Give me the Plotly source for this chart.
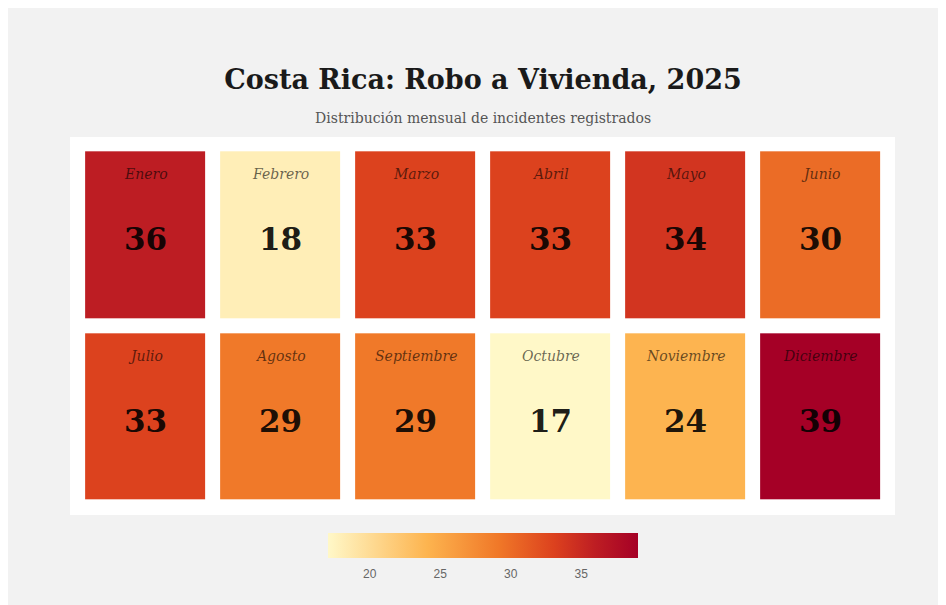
import plotly.graph_objects as go

months = ["Enero", "Febrero", "Marzo", "Abril", "Mayo", "Junio",
          "Julio", "Agosto", "Septiembre", "Octubre", "Noviembre", "Diciembre"]
incidents = [36, 18, 33, 33, 34, 30,
             33, 29, 29, 17, 24, 39]
n_cols = 6
colorbar_ticks = [20, 25, 30, 35]

serif = "Georgia, 'DejaVu Serif', serif"

# yellow -> orange -> red, tuned to the reference
scale = [
    [0.0, "#fff8c8"],
    [0.32, "#fdb44f"],
    [0.55, "#f07828"],
    [0.73, "#dc411e"],
    [0.86, "#be1e23"],
    [1.0, "#a50026"],
]

# 2 x 6 grid of months
z = [incidents[i:i + n_cols] for i in range(0, len(incidents), n_cols)]
labels = [months[i:i + n_cols] for i in range(0, len(months), n_cols)]

fig = go.Figure(go.Heatmap(
    z=z,
    x=list(range(n_cols)),
    y=list(range(len(z))),
    colorscale=scale,
    xgap=15,
    ygap=15,
    hoverinfo="skip",
    colorbar=dict(
        orientation="h",
        x=0.5, xanchor="center",
        y=-0.021, yanchor="top",
        len=0.4,
        thickness=25,
        outlinewidth=0,
        tickvals=colorbar_ticks,
        tickfont=dict(family="Liberation Sans, Arial, sans-serif", size=12, color="#666"),
        ticks="outside",
        ticklen=6,
        tickcolor="rgba(0,0,0,0)",
    ),
))

annotations = []
for r, row in enumerate(z):
    for c, val in enumerate(row):
        annotations.append(dict(
            x=c, y=r - 0.335, xref="x", yref="y",
            text=f"<i>{labels[r][c]}</i>", showarrow=False,
            font=dict(family=serif, size=14, color="rgba(0,0,0,0.6)"),
        ))
        annotations.append(dict(
            x=c, y=r + 0.02, xref="x", yref="y",
            text=f"<b>{val}</b>", showarrow=False,
            font=dict(family=serif, size=31, color="rgba(0,0,0,0.9)"),
        ))

annotations.append(dict(
    x=0.5, y=1.05, xref="paper", yref="paper", yanchor="middle",
    text="Distribución mensual de incidentes registrados", showarrow=False,
    font=dict(family=serif, size=14, color="#555"),
))

fig.update_layout(
    width=950,
    height=600,
    title=dict(
        text="<b>Costa Rica: Robo a Vivienda, 2025</b>",
        x=0.5, xanchor="center",
        y=1 - 72 / 600, yanchor="middle",
        font=dict(family=serif, size=27, color="#1a1a1a"),
    ),
    annotations=annotations,
    margin=dict(l=62, r=63, t=129, b=93),
    paper_bgcolor="#f2f2f2",
    plot_bgcolor="white",
    xaxis=dict(visible=False, range=[-0.56, 5.55], fixedrange=True),
    yaxis=dict(visible=False, range=[1.54, -0.54], fixedrange=True),
)

fig.write_html("out.html")
